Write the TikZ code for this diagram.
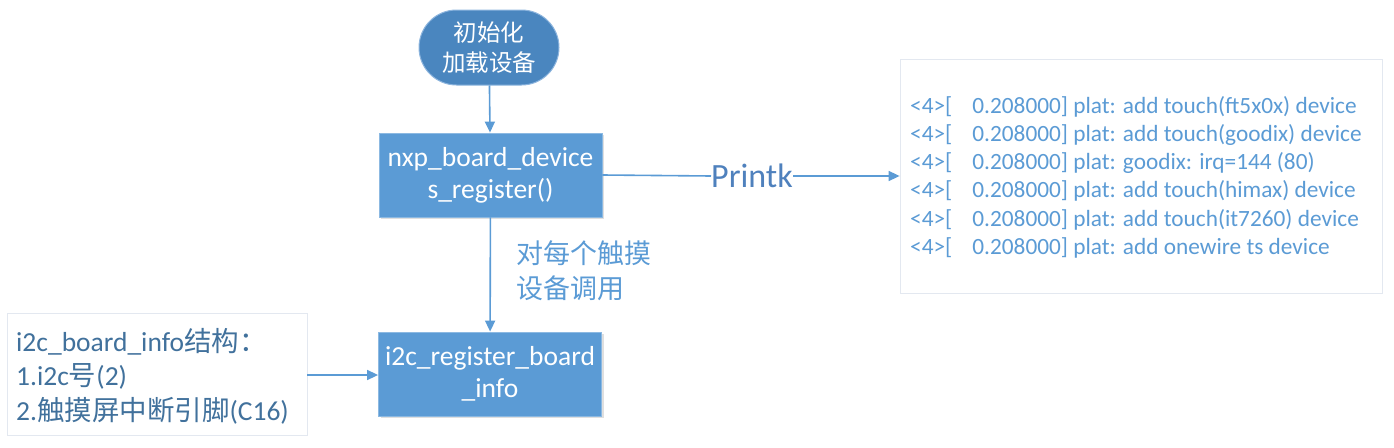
\documentclass[tikz,border=0pt]{standalone}
\usepackage{fontspec}
\setmainfont{Carlito}
\newfontfamily\cjk{Noto Sans CJK SC}
\usetikzlibrary{arrows.meta,shapes.misc,shadows}
\definecolor{boxblue}{HTML}{5B9BD5}
\definecolor{termblue}{HTML}{4A86BF}
\definecolor{termedge}{HTML}{8DB5DE}
\definecolor{txtblue}{HTML}{4F81BD}
\definecolor{logblue}{HTML}{5B9BD5}
\definecolor{leftblue}{HTML}{41719C}
\definecolor{edgegray}{HTML}{E3E8F0}
\tikzset{
  procbox/.style={draw=boxblue!70!white, line width=0.8pt, fill=boxblue, text=white,
    minimum width=223pt, minimum height=84pt, inner sep=0pt, align=center,
    font=\fontsize{27.5}{32}\selectfont,
    drop shadow={shadow xshift=2pt, shadow yshift=-2pt, opacity=0.25, fill=gray}},
  termbox/.style={rounded rectangle, draw=termedge, line width=1pt, fill=termblue, text=white,
    minimum width=140pt, minimum height=75pt, inner sep=0pt, align=center,
    font=\cjk\fontsize{23.5}{30}\selectfont},
  framebox/.style={draw=edgegray, line width=0.8pt, fill=white},
  conn/.style={draw=boxblue, line width=1.6pt, -{Triangle[length=11pt,width=10pt]}},
  plain/.style={draw=boxblue, line width=1.6pt},
}
\begin{document}
\begin{tikzpicture}[x=1pt,y=-1pt]
\useasboundingbox (0,0) rectangle (1394,447);
% terminator
\node[termbox] (init) at (489,47.5) {初始化\\加载设备};
% boxes
\node[procbox] (nxp) at (490.5,175) {nxp\_board\_device\\s\_register()};
\node[procbox] (i2c) at (490,374) {i2c\_register\_board\\\_info};
% log frame
\node[framebox, minimum width=482pt, minimum height=234pt, inner sep=0pt] (log) at (1141,176) {};
\node[anchor=north west, inner sep=0pt, text=logblue, align=left,
  font=\fontsize{23.3}{28.2}\selectfont] (logtxt) at (910,96) {%
  <4>[\hspace{20pt}0.208000] plat: add touch(ft5x0x) device\\
  <4>[\hspace{20pt}0.208000] plat: add touch(goodix) device\\
  <4>[\hspace{20pt}0.208000] plat: goodix: irq=144 (80)\\
  <4>[\hspace{20pt}0.208000] plat: add touch(himax) device\\
  <4>[\hspace{20pt}0.208000] plat: add touch(it7260) device\\
  <4>[\hspace{20pt}0.208000] plat: add onewire ts device};
% left frame
\node[framebox, minimum width=300pt, minimum height=122pt, inner sep=0pt] (info) at (157,374) {};
\node[anchor=west, inner sep=0pt, text=leftblue, align=left,
  font=\fontsize{27.5}{34.5}\selectfont] (infotxt) at (16,376) {%
  i2c\_board\_info{\cjk 结构：}\\
  1.i2c{\cjk 号}(2)\\
  2.{\cjk 触摸屏中断引脚}(C16)};
% connectors
\draw[conn] (init) -- (nxp);
\draw[conn] (nxp) -- (i2c);
\node[anchor=north west, inner sep=0pt, text=logblue, align=left,
  font=\cjk\fontsize{27}{35}\selectfont] (calllbl) at (516,240) {对每个触摸\\设备调用};
\node[inner sep=0pt, text=txtblue, font=\fontsize{34}{36}\selectfont] (printk) at (752,176) {Printk};
\draw[plain] (nxp.east) -- (printk.west);
\draw[conn] (printk.east) -- (log.west |- printk.east);
\draw[conn] (info.east |- 0,375) coordinate (infoout) -- (i2c.west |- infoout);
\end{tikzpicture}
\end{document}
